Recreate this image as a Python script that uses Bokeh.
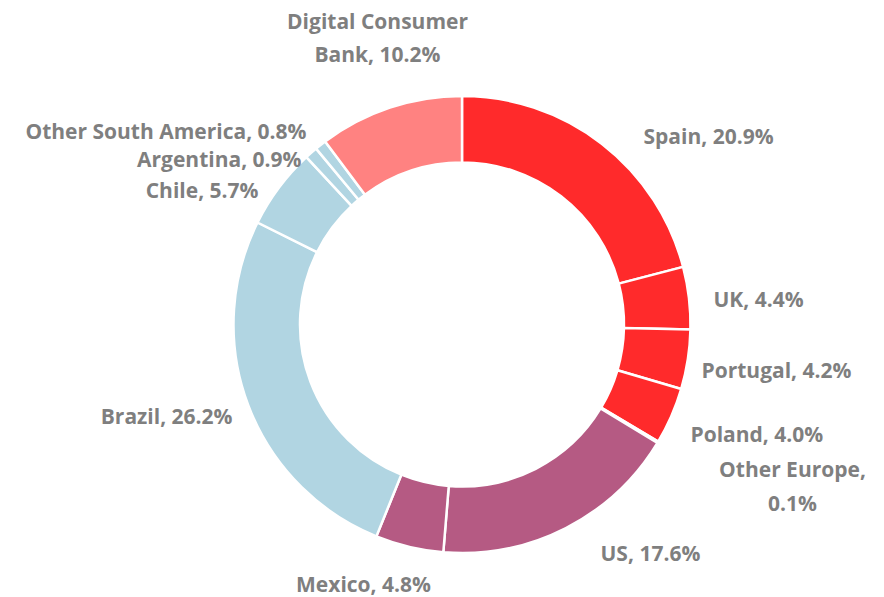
import math
from bokeh.plotting import figure
from bokeh.models import Range1d, ColumnDataSource
from bokeh.core.properties import value
from bokeh.embed import file_html
from bokeh.resources import INLINE

# ---- data ----
regions = ["Spain", "UK", "Portugal", "Poland", "Other Europe", "US", "Mexico",
           "Brazil", "Chile", "Argentina", "Other South America", "Digital Consumer Bank"]
shares = [20.9, 4.4, 4.2, 4.0, 0.1, 17.6, 4.8, 26.2, 5.7, 0.9, 0.8, 10.2]
colors = ["#FF2A2B", "#FF2A2B", "#FF2A2B", "#FF2A2B", "#FF2A2B", "#B55A83", "#B55A83",
          "#B1D5E2", "#B1D5E2", "#B1D5E2", "#B1D5E2", "#FF8281"]

# label lines (text) and their page-pixel anchor positions / alignments
label_lines = [
    ("Spain, 20.9%", 643, 135, "left"),
    ("UK, 4.4%", 713, 298, "left"),
    ("Portugal, 4.2%", 701, 369, "left"),
    ("Poland, 4.0%", 690, 433, "left"),
    ("Other Europe,", 792, 468, "center"),
    ("0.1%", 792, 502, "center"),
    ("US, 17.6%", 600, 552, "left"),
    ("Mexico, 4.8%", 363, 583, "center"),
    ("Brazil, 26.2%", 232, 415, "right"),
    ("Chile, 5.7%", 258, 189, "right"),
    ("Argentina, 0.9%", 301, 158, "right"),
    ("Other South America, 0.8%", 306, 130, "right"),
    ("Digital Consumer", 377, 20, "center"),
    ("Bank, 10.2%", 377, 53, "center"),
]

W, H = 884, 597


def px(x):
    return x


def py(y):
    return H - y


cx, cy = px(461.5), py(324)
r_out, r_in = 228.5, 162

total = sum(shares)
starts, ends = [], []
cum = 0.0
for s in shares:
    starts.append(math.pi / 2 - cum / total * 2 * math.pi)
    cum += s
    ends.append(math.pi / 2 - cum / total * 2 * math.pi)

src = ColumnDataSource(dict(start=starts, end=ends, color=colors, region=regions, share=shares))

p = figure(width=W, height=H, output_backend="svg", toolbar_location=None,
           x_range=Range1d(0, W), y_range=Range1d(0, H), min_border=0)
p.axis.visible = False
p.grid.visible = False
p.outline_line_color = None
p.background_fill_color = "white"

p.annular_wedge(x=cx, y=cy, inner_radius=r_in, outer_radius=r_out,
                start_angle="start", end_angle="end", direction="clock",
                fill_color="color", line_color="white", line_width=2.5, source=src)

for align in ("left", "center", "right"):
    rows = [l for l in label_lines if l[3] == align]
    if not rows:
        continue
    p.text(x=[px(r[1]) for r in rows], y=[py(r[2]) for r in rows], text=[r[0] for r in rows],
           text_align=align, text_baseline="middle", text_font=value("Open Sans"),
           text_font_style="bold", text_font_size="21px", text_color="#7F7F7F")

open("out.html", "w").write(file_html(p, INLINE))
